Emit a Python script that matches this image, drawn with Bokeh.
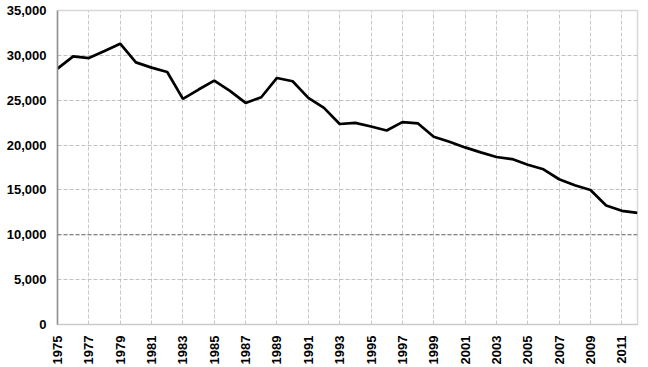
import math
from bokeh.plotting import figure
from bokeh.models import NumeralTickFormatter, FixedTicker, Span, Range1d
from bokeh.embed import file_html
from bokeh.resources import INLINE

years = list(range(1975, 2013))
values = [28520, 29890, 29700, 30480, 31300, 29220, 28630, 28150, 25150, 26190,
          27190, 26040, 24700, 25330, 27480, 27110, 25260, 24150, 22350, 22480,
          22070, 21630, 22560, 22410, 20930, 20370, 19740, 19190, 18670, 18440,
          17810, 17300, 16190, 15520, 15000, 13260, 12670, 12440]
x_ticks = list(range(1975, 2013, 2))
y_ticks = list(range(0, 35001, 5000))

p = figure(width=648, height=367, output_backend="svg", toolbar_location=None,
           x_range=Range1d(1975, 2012), y_range=Range1d(0, 35000),
           min_border_left=57, min_border_right=11, min_border_top=10, min_border_bottom=42)

p.line(years, values, line_color="black", line_width=2.7)

p.xaxis.ticker = FixedTicker(ticks=x_ticks)
p.yaxis.ticker = FixedTicker(ticks=y_ticks)
p.yaxis.formatter = NumeralTickFormatter(format="0,0")
p.xaxis.major_label_orientation = math.pi / 2

for ax in (p.xaxis[0], p.yaxis[0]):
    ax.major_label_text_font = "Liberation Sans"
    ax.major_label_text_font_style = "bold"
    ax.major_label_text_font_size = "13px"
    ax.major_label_text_color = "black"
    ax.major_tick_line_color = None
    ax.minor_tick_line_color = None
    ax.major_label_standoff = 5

p.yaxis.axis_line_color = "#909090"
p.yaxis.axis_line_width = 1.5
p.xaxis.axis_line_color = "#c8c8c8"

p.xgrid.grid_line_color = "#c8c8c8"
p.xgrid.grid_line_dash = "4 2"
p.ygrid.grid_line_color = "#c0c0c0"
p.ygrid.grid_line_dash = "4 2"

p.add_layout(Span(location=10000, dimension="width", line_color="#707070",
                  line_dash="4 2", line_width=1), "center")

p.outline_line_color = "#d8d8d8"
p.outline_line_width = 1.5
p.background_fill_color = "white"
p.border_fill_color = "white"

open("out.html", "w").write(file_html(p, INLINE))
